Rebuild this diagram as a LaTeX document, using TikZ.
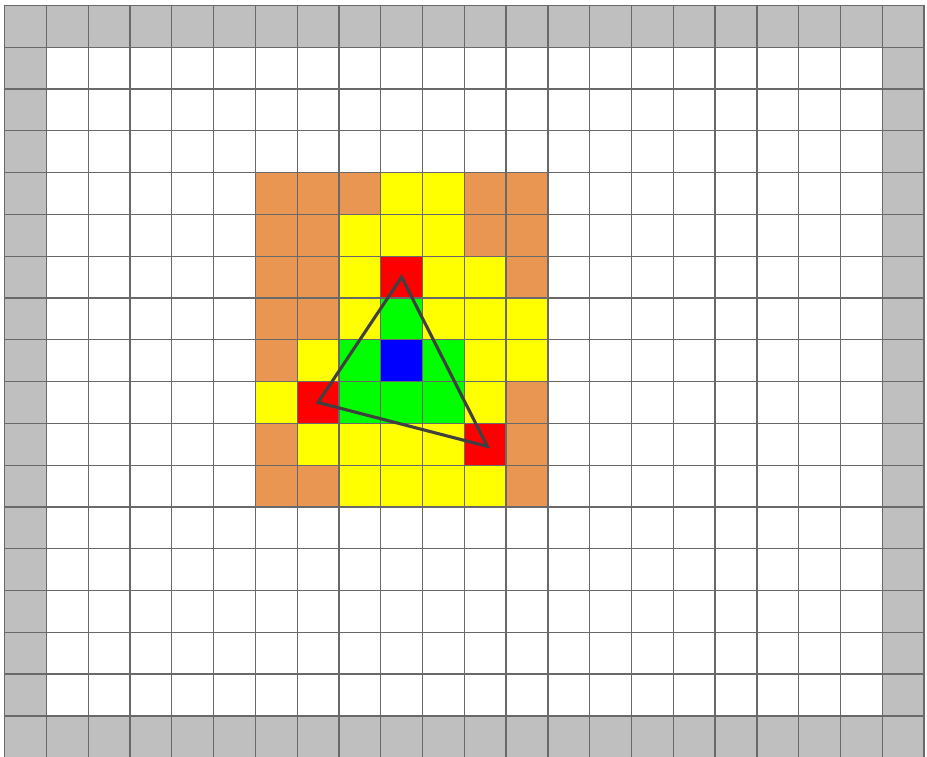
\documentclass[tikz,border=0pt]{standalone}
\usepackage{tikz}
\usepackage{xcolor}
\definecolor{bordergray}{RGB}{191,191,191}
\definecolor{gridline}{RGB}{105,105,105}
\definecolor{triline}{RGB}{64,64,64}
\definecolor{cO}{RGB}{233,150,82}
\definecolor{cY}{RGB}{255,255,0}
\definecolor{cR}{RGB}{255,0,0}
\definecolor{cG}{RGB}{0,255,0}
\definecolor{cB}{RGB}{0,0,255}

\begin{document}
\begin{tikzpicture}
    \useasboundingbox (-0.11, 0.04) rectangle (22.07, 18.13);

    % 边界单元格
    \fill[bordergray] (0, 0) rectangle (22, 18);
    \fill[white] (1, 1) rectangle (21, 17);

    % 着色区域 (自上而下第4至11行, 第6至12列)
    \foreach \r/\row in {4/{cO,cO,cO,cY,cY,cO,cO},
                         5/{cO,cO,cY,cY,cY,cO,cO},
                         6/{cO,cO,cY,cR,cY,cY,cO},
                         7/{cO,cO,cY,cG,cY,cY,cY},
                         8/{cO,cY,cG,cB,cG,cY,cY},
                         9/{cY,cR,cG,cG,cG,cY,cO},
                         10/{cO,cY,cY,cY,cY,cR,cO},
                         11/{cO,cO,cY,cY,cY,cY,cO}}
        \foreach \k [count=\c from 6] in \row
            \fill[fill=\k] (\c, 17-\r) rectangle ++(1, 1);

    % 网格线
    \draw[gridline, line width=0.9pt] (0, 0) grid (22, 18);

    % 三角形
    \coordinate (top) at (9.5, 11.5);
    \coordinate (left) at (7.5, 8.5);
    \coordinate (right) at (11.55, 7.45);
    \draw[triline, line width=2.1pt] (top) -- (left) -- (right) -- cycle;
\end{tikzpicture}
\end{document}
